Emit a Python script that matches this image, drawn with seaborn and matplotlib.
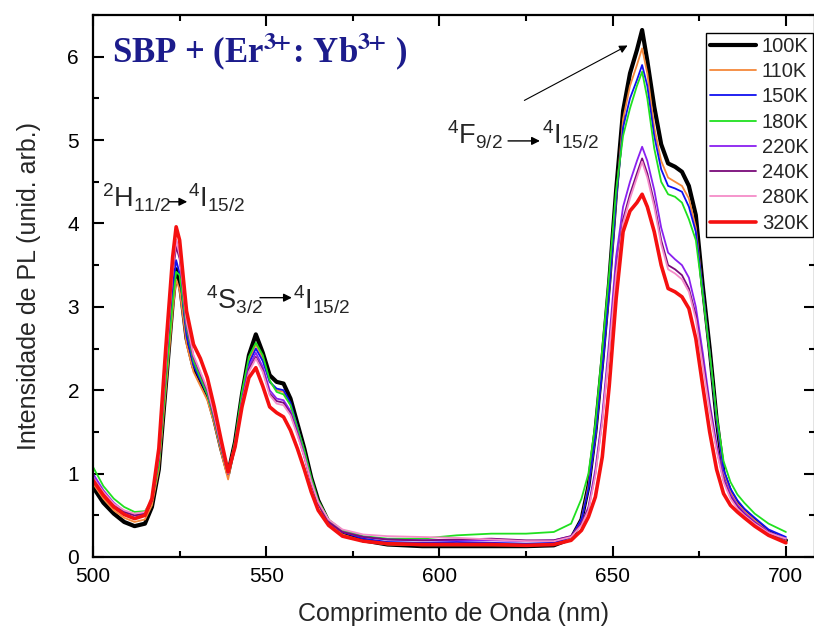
import matplotlib
matplotlib.use("Agg")
import matplotlib.pyplot as plt
import seaborn as sns

# wavelength grid (nm) shared by every spectrum
wl = [500, 503, 506, 509, 512, 515, 517, 519, 521, 523,
      524, 525, 527, 529, 531, 533, 535, 537, 539, 541,
      543, 545, 547, 549, 551, 553, 555, 557, 559, 561,
      563, 565, 568, 572, 578, 585, 595, 605, 615, 625,
      633, 638, 641, 643, 645, 647, 649, 651, 653, 655,
      657, 658.5, 660, 662, 664, 666, 668, 670, 672, 674,
      676, 678, 680, 682, 684, 686, 688, 691, 695, 700]

pl_100K = [0.84, 0.65, 0.52, 0.42, 0.37, 0.40, 0.60, 1.05, 2.05, 3.05,
           3.45, 3.30, 2.62, 2.28, 2.12, 1.95, 1.65, 1.30, 1.00, 1.38,
           1.95, 2.42, 2.67, 2.45, 2.18, 2.10, 2.08, 1.90, 1.60, 1.30,
           0.95, 0.68, 0.42, 0.28, 0.20, 0.15, 0.13, 0.13, 0.13, 0.13,
           0.14, 0.22, 0.45, 0.85, 1.50, 2.35, 3.30, 4.40, 5.35, 5.80,
           6.08, 6.32, 5.95, 5.40, 4.95, 4.72, 4.68, 4.62, 4.45, 4.10,
           3.25, 2.50, 1.65, 1.00, 0.78, 0.64, 0.55, 0.44, 0.30, 0.20]
pl_110K = [0.88, 0.70, 0.56, 0.47, 0.42, 0.45, 0.62, 1.05, 2.00, 2.95,
           3.33, 3.20, 2.55, 2.22, 2.05, 1.88, 1.60, 1.25, 0.93, 1.35,
           1.90, 2.35, 2.55, 2.38, 2.10, 2.00, 1.98, 1.82, 1.55, 1.25,
           0.92, 0.65, 0.40, 0.27, 0.19, 0.15, 0.14, 0.14, 0.14, 0.14,
           0.15, 0.22, 0.45, 0.85, 1.45, 2.30, 3.20, 4.30, 5.25, 5.65,
           5.90, 6.10, 5.80, 5.15, 4.75, 4.55, 4.50, 4.45, 4.30, 3.95,
           3.20, 2.45, 1.65, 1.02, 0.78, 0.64, 0.55, 0.44, 0.30, 0.20]
pl_150K = [0.95, 0.75, 0.60, 0.52, 0.47, 0.50, 0.68, 1.15, 2.15, 3.20,
           3.56, 3.40, 2.65, 2.30, 2.12, 1.95, 1.65, 1.30, 1.00, 1.38,
           1.92, 2.32, 2.50, 2.35, 2.10, 2.02, 2.00, 1.85, 1.56, 1.26,
           0.93, 0.66, 0.42, 0.30, 0.22, 0.18, 0.17, 0.18, 0.17, 0.16,
           0.17, 0.24, 0.45, 0.82, 1.45, 2.25, 3.20, 4.30, 5.15, 5.50,
           5.72, 5.90, 5.65, 5.05, 4.65, 4.45, 4.42, 4.38, 4.20, 3.90,
           3.20, 2.45, 1.65, 1.05, 0.82, 0.68, 0.58, 0.47, 0.33, 0.24]
pl_180K = [1.08, 0.85, 0.70, 0.60, 0.54, 0.55, 0.68, 1.10, 2.10, 3.05,
           3.42, 3.38, 2.75, 2.35, 2.15, 1.95, 1.65, 1.30, 1.00, 1.40,
           1.98, 2.40, 2.57, 2.42, 2.12, 1.98, 1.95, 1.82, 1.55, 1.28,
           0.95, 0.68, 0.45, 0.32, 0.25, 0.22, 0.22, 0.26, 0.28, 0.28,
           0.30, 0.40, 0.70, 1.00, 1.60, 2.50, 3.40, 4.40, 5.05, 5.38,
           5.65, 5.82, 5.50, 4.90, 4.50, 4.35, 4.32, 4.25, 4.05, 3.80,
           3.15, 2.45, 1.70, 1.15, 0.90, 0.75, 0.65, 0.52, 0.40, 0.30]
pl_220K = [1.00, 0.80, 0.65, 0.55, 0.50, 0.52, 0.68, 1.20, 2.30, 3.45,
           3.80, 3.62, 2.80, 2.40, 2.20, 2.00, 1.68, 1.32, 1.00, 1.35,
           1.88, 2.28, 2.45, 2.28, 2.00, 1.90, 1.88, 1.75, 1.50, 1.22,
           0.90, 0.65, 0.42, 0.30, 0.24, 0.21, 0.20, 0.20, 0.20, 0.19,
           0.20, 0.25, 0.40, 0.60, 1.05, 1.70, 2.60, 3.60, 4.20, 4.50,
           4.75, 4.92, 4.75, 4.40, 3.95, 3.65, 3.57, 3.50, 3.35, 3.00,
           2.45, 1.85, 1.35, 0.95, 0.75, 0.62, 0.53, 0.42, 0.30, 0.22]
pl_240K = [0.95, 0.78, 0.63, 0.54, 0.50, 0.52, 0.68, 1.18, 2.25, 3.40,
           3.72, 3.58, 2.80, 2.40, 2.20, 2.00, 1.68, 1.32, 1.00, 1.35,
           1.86, 2.25, 2.40, 2.24, 1.96, 1.87, 1.85, 1.72, 1.48, 1.20,
           0.88, 0.64, 0.42, 0.30, 0.24, 0.21, 0.20, 0.21, 0.22, 0.20,
           0.20, 0.25, 0.40, 0.58, 1.00, 1.65, 2.50, 3.45, 4.05, 4.35,
           4.60, 4.78, 4.60, 4.25, 3.80, 3.50, 3.45, 3.38, 3.22, 2.90,
           2.35, 1.80, 1.30, 0.92, 0.72, 0.60, 0.51, 0.41, 0.29, 0.21]
pl_280K = [0.95, 0.78, 0.64, 0.56, 0.52, 0.54, 0.70, 1.20, 2.30, 3.45,
           3.80, 3.62, 2.82, 2.42, 2.22, 2.02, 1.70, 1.33, 1.00, 1.35,
           1.85, 2.22, 2.38, 2.22, 1.94, 1.84, 1.82, 1.70, 1.46, 1.20,
           0.90, 0.66, 0.45, 0.33, 0.27, 0.25, 0.24, 0.23, 0.21, 0.19,
           0.19, 0.24, 0.38, 0.56, 0.98, 1.62, 2.48, 3.40, 4.00, 4.30,
           4.55, 4.74, 4.55, 4.20, 3.75, 3.45, 3.40, 3.33, 3.18, 2.85,
           2.30, 1.75, 1.28, 0.90, 0.70, 0.58, 0.50, 0.40, 0.29, 0.22]
pl_320K = [0.92, 0.74, 0.60, 0.51, 0.46, 0.50, 0.70, 1.30, 2.50, 3.60,
           3.96, 3.80, 2.95, 2.55, 2.38, 2.15, 1.80, 1.40, 1.02, 1.32,
           1.80, 2.15, 2.27, 2.05, 1.80, 1.73, 1.68, 1.52, 1.30, 1.05,
           0.78, 0.56, 0.38, 0.25, 0.19, 0.16, 0.15, 0.15, 0.15, 0.14,
           0.15, 0.20, 0.32, 0.48, 0.72, 1.20, 2.05, 3.10, 3.90, 4.15,
           4.25, 4.35, 4.20, 3.90, 3.50, 3.22, 3.18, 3.12, 2.98, 2.62,
           2.05, 1.50, 1.05, 0.76, 0.62, 0.54, 0.47, 0.37, 0.26, 0.17]

labels = ['100K', '110K', '150K', '180K', '220K', '240K', '280K', '320K']
series = [pl_100K, pl_110K, pl_150K, pl_180K, pl_220K, pl_240K, pl_280K, pl_320K]
colors = ['black', '#F5883A', '#1010F0', '#20E020', '#8A20F0', '#7A0A7A', '#F58CC8', '#F51010']
widths = [3.0, 1.3, 1.3, 1.3, 1.3, 1.3, 1.3, 2.6]

sns.set_style('ticks')
plt.rcParams['font.family'] = ['Liberation Sans', 'DejaVu Sans']
plt.rcParams['mathtext.fontset'] = 'custom'
plt.rcParams['mathtext.rm'] = 'Liberation Sans'
plt.rcParams['mathtext.it'] = 'Liberation Sans:italic'
plt.rcParams['mathtext.bf'] = 'Liberation Sans:bold'

fig = plt.figure(figsize=(8.14, 6.33), dpi=100)
ax = fig.add_axes([93/814, 76/633, 722/814, 542/633])

for y, lab, c, w in zip(series, labels, colors, widths):
    sns.lineplot(x=wl, y=y, ax=ax, color=c, lw=w, label=lab)

ax.set_xlim(500, 708.4)
ax.set_ylim(0, 6.5)
ax.set_xticks([500, 550, 600, 650, 700])
ax.set_xticks([525, 575, 625, 675], minor=True)
ax.set_yticks([0, 1, 2, 3, 4, 5, 6])
ax.set_yticks([0.5, 1.5, 2.5, 3.5, 4.5, 5.5, 6.5], minor=True)
ax.tick_params(which='both', direction='in', top=True, right=True, width=1.5,
               labelsize=15, colors='black')
ax.tick_params(which='major', length=8)
ax.tick_params(which='minor', length=4)
ax.tick_params(axis='x', which='major', pad=7)
ax.tick_params(axis='y', which='major', pad=10)
for s in ax.spines.values():
    s.set_linewidth(1.6)
    s.set_color('black')

ax.set_xlabel('Comprimento de Onda (nm)', fontsize=18, labelpad=12)
ax.set_ylabel('Intensidade de PL (unid. arb.)', fontsize=18, labelpad=19)

leg = ax.legend(loc='upper right', bbox_to_anchor=(0.997, 0.967), borderaxespad=0,
                fontsize=14.5, frameon=True, fancybox=False, edgecolor='black',
                framealpha=1, handlelength=2.3, handletextpad=0.3,
                labelspacing=0.31, borderpad=0.2)
leg.get_frame().set_linewidth(1.0)

# title of the sample
ax.text(505.5, 5.93, r'SBP + (Er$^{\mathbf{3}\!\mathbf{+}}$: Yb$^{\mathbf{3}\!\mathbf{+}}$ )',
        fontsize=25, family='Liberation Serif', weight='bold', color='#1C1C8C',
        math_fontfamily='stix')

# transition labels
tfs = 19.5
arrow = dict(arrowstyle='-|>', color='black', lw=1.0, mutation_scale=12, shrinkA=0, shrinkB=0)
ax.text(502.6, 4.19, r'$^{2}$H$_{11/2}$', fontsize=tfs)
ax.text(527.4, 4.19, r'$^{4}$I$_{15/2}$', fontsize=tfs)
ax.annotate('', xy=(527.2, 4.26), xytext=(522.0, 4.26), arrowprops=arrow)

ax.text(532.6, 2.97, r'$^{4}$S$_{3/2}$', fontsize=tfs)
ax.text(557.7, 2.97, r'$^{4}$I$_{15/2}$', fontsize=tfs)
ax.annotate('', xy=(557.4, 3.11), xytext=(548.2, 3.11), arrowprops=arrow)

ax.text(602.2, 4.95, r'$^{4}$F$_{9/2}$', fontsize=tfs)
ax.text(629.6, 4.95, r'$^{4}$I$_{15/2}$', fontsize=tfs)
ax.annotate('', xy=(629.0, 4.99), xytext=(619.8, 4.99), arrowprops=arrow)
ax.annotate('', xy=(655.0, 6.15), xytext=(623.8, 5.46),
            arrowprops=dict(arrowstyle='-|>', color='black', lw=0.8, mutation_scale=12))

fig.savefig('out.png', dpi=100)
